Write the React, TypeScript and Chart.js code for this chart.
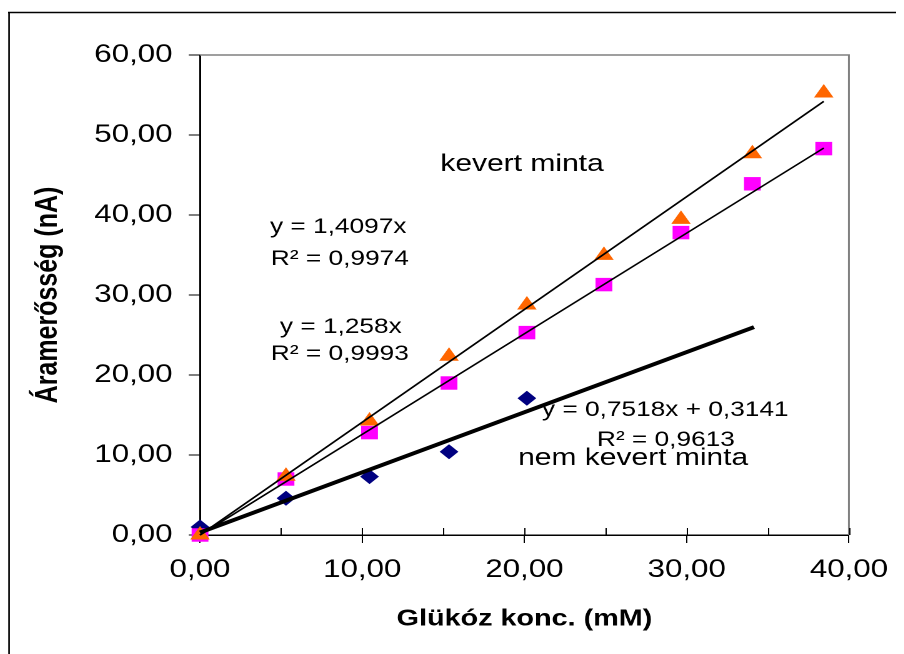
import React, { useEffect, useRef } from "react";
import { Chart, registerables } from "chart.js";
Chart.register(...registerables);

// ---- data ----
const glucose = [0, 5.3, 10.45, 15.35, 20.15, 24.9, 29.65, 34.05, 38.45];
const kevertTriangle = [0, 7.35, 14.25, 22.35, 28.75, 34.95, 39.45, 47.65, 55.25];
const kevertSquare = [0, 7.0, 12.8, 19.0, 25.3, 31.3, 37.8, 43.9, 48.3];
const nemKevert = [1.0, 4.6, 7.3, 10.4, 17.1];
const xTickValues = [0, 10, 20, 30, 40];
const yTickValues = [0, 10, 20, 30, 40, 50, 60];
// trendlines: slope, intercept, x from, x to
const trendTriangle = [1.4097, 0, 0, 38.45];
const trendSquare = [1.258, 0, 0, 38.45];
const trendNem = [0.7518, 0.3141, 0, 34.15];
const labelTexts = [
  "kevert minta",
  "y = 1,4097x",
  "R² = 0,9974",
  "y = 1,258x",
  "R² = 0,9993",
  "y = 0,7518x + 0,3141",
  "R² = 0,9613",
  "nem kevert minta",
];

// ---- layout (not data) ----
const STRETCH = 1.25;
const W = Math.floor(896 / STRETCH);
const H = 646;
const FONT = "'Liberation Sans', Arial, sans-serif";
const labelAnchors = [
  { x: 19.85, y: 45.5, size: 24 },
  { x: 8.52, y: 37.75, size: 21 },
  { x: 8.62, y: 33.75, size: 21 },
  { x: 8.68, y: 25.25, size: 21 },
  { x: 8.62, y: 21.9, size: 21 },
  { x: 28.68, y: 14.9, size: 21 },
  { x: 28.72, y: 11.15, size: 21 },
  { x: 26.7, y: 8.75, size: 24 },
];

const fmt = (v: number) => Number(v).toFixed(2).replace(".", ",");
const pairs = (xs: number[], ys: number[]) => ys.map((y, i) => ({ x: xs[i], y }));
const trend = (t: number[]) => [
  { x: t[2], y: t[0] * t[2] + t[1] },
  { x: t[3], y: t[0] * t[3] + t[1] },
];

const decor = {
  id: "decor",
  beforeDraw(chart: any) {
    const ctx = chart.ctx;
    ctx.save();
    ctx.fillStyle = "#fff";
    ctx.fillRect(0, 0, chart.width, chart.height);
    ctx.strokeStyle = "#000";
    ctx.lineWidth = 1.5;
    ctx.beginPath();
    ctx.moveTo(0, 4.5);
    ctx.lineTo(chart.width, 4.5);
    ctx.stroke();
    ctx.lineWidth = 1.3;
    ctx.beginPath();
    ctx.moveTo(0.8, 4.5);
    ctx.lineTo(0.8, chart.height);
    ctx.stroke();
    ctx.restore();
  },
  beforeDatasetsDraw(chart: any) {
    const ctx = chart.ctx;
    const a = chart.chartArea;
    const xs = chart.scales.x;
    ctx.save();
    ctx.strokeStyle = "#808080";
    ctx.lineWidth = 1.5;
    ctx.beginPath();
    ctx.moveTo(a.left, a.top);
    ctx.lineTo(a.right, a.top);
    ctx.lineTo(a.right, a.bottom);
    ctx.stroke();
    ctx.strokeStyle = "#000";
    ctx.lineWidth = 1;
    for (let v = 0; v <= 40; v += 5) {
      const px = Math.round(xs.getPixelForValue(v)) + 0.5;
      ctx.beginPath();
      ctx.moveTo(px, a.bottom);
      ctx.lineTo(px, a.bottom - 7);
      ctx.stroke();
    }
    ctx.restore();
  },
  afterDatasetsDraw(chart: any) {
    const ctx = chart.ctx;
    const xs = chart.scales.x;
    const ys = chart.scales.y;
    ctx.save();
    ctx.fillStyle = "#000";
    ctx.textAlign = "center";
    ctx.textBaseline = "alphabetic";
    labelTexts.forEach((t, i) => {
      const an = labelAnchors[i];
      ctx.font = `${an.size}px ${FONT}`;
      ctx.fillText(t, xs.getPixelForValue(an.x), ys.getPixelForValue(an.y));
    });
    ctx.restore();
  },
};

export default function App() {
  const ref = useRef<HTMLCanvasElement | null>(null);
  useEffect(() => {
    if (!ref.current) return;
    const lineDs = (t: number[], w: number) => ({
      data: trend(t),
      showLine: true,
      borderColor: "#000",
      backgroundColor: "#000",
      borderWidth: w,
      pointRadius: 0,
      pointHoverRadius: 0,
      order: 0,
      clip: false as any,
    });
    const chart = new Chart(ref.current, {
      type: "scatter",
      data: {
        datasets: [
          lineDs(trendTriangle, 1.5),
          lineDs(trendSquare, 1.5),
          lineDs(trendNem, 3.8),
          {
            data: pairs(glucose, kevertTriangle),
            pointStyle: "triangle",
            pointRadius: 9,
            backgroundColor: "#FF6600",
            borderColor: "#FF6600",
            borderWidth: 0,
            order: 1,
            clip: false as any,
          },
          {
            data: pairs(glucose, kevertSquare),
            pointStyle: "rect",
            pointRadius: 9.5,
            backgroundColor: "#FF00FF",
            borderColor: "#FF00FF",
            borderWidth: 0,
            order: 2,
            clip: false as any,
          },
          {
            data: pairs(glucose, nemKevert),
            pointStyle: "rectRot",
            pointRadius: 7.5,
            backgroundColor: "#000080",
            borderColor: "#000080",
            borderWidth: 0,
            order: 3,
            clip: false as any,
          },
        ],
      },
      options: {
        animation: false,
        responsive: false,
        devicePixelRatio: 2,
        events: [],
        layout: { padding: { top: 47, right: W - 673.6, bottom: 0, left: 0 } },
        plugins: { legend: { display: false }, tooltip: { enabled: false } },
        scales: {
          x: {
            type: "linear",
            min: 0,
            max: 40,
            afterBuildTicks: (s: any) => {
              s.ticks = xTickValues.map((v) => ({ value: v }));
            },
            afterFit: (s: any) => {
              s.height = 119;
            },
            ticks: {
              callback: (v: any) => fmt(v),
              font: { family: FONT, size: 25 },
              color: "#000",
              padding: 12,
              maxRotation: 0,
            },
            grid: { drawOnChartArea: false, drawTicks: true, tickLength: 8, color: "#000", lineWidth: 1 },
            border: { display: true, color: "#000", width: 1.5 },
            title: {
              display: true,
              text: "Glükóz konc. (mM)",
              font: { family: FONT, size: 23, weight: "bold" },
              color: "#000",
              padding: { top: 0, bottom: 21.2 },
            },
          },
          y: {
            type: "linear",
            min: 0,
            max: 60,
            afterBuildTicks: (s: any) => {
              s.ticks = yTickValues.map((v) => ({ value: v }));
            },
            afterFit: (s: any) => {
              s.width = 153.6;
            },
            ticks: {
              callback: (v: any) => fmt(v),
              font: { family: FONT, size: 25 },
              color: "#000",
              padding: 13,
            },
            grid: { drawOnChartArea: false, drawTicks: true, tickLength: 9, color: "#000", lineWidth: 1 },
            border: { display: true, color: "#000", width: 1.5 },
            title: {
              display: true,
              text: "Áramerősség (nA)",
              font: { family: FONT, size: 25, weight: "bold" },
              color: "#000",
              padding: { top: 17, bottom: 0 },
            },
          },
        },
      },
      plugins: [decor],
    } as any);
    return () => chart.destroy();
  }, []);

  return (
    <div
      style={{
        width: W,
        height: H,
        transform: `scaleX(${STRETCH})`,
        transformOrigin: "0 0",
        overflow: "hidden",
      }}
    >
      <canvas ref={ref} width={W} height={H} style={{ display: "block", width: W, height: H }} />
    </div>
  );
}
